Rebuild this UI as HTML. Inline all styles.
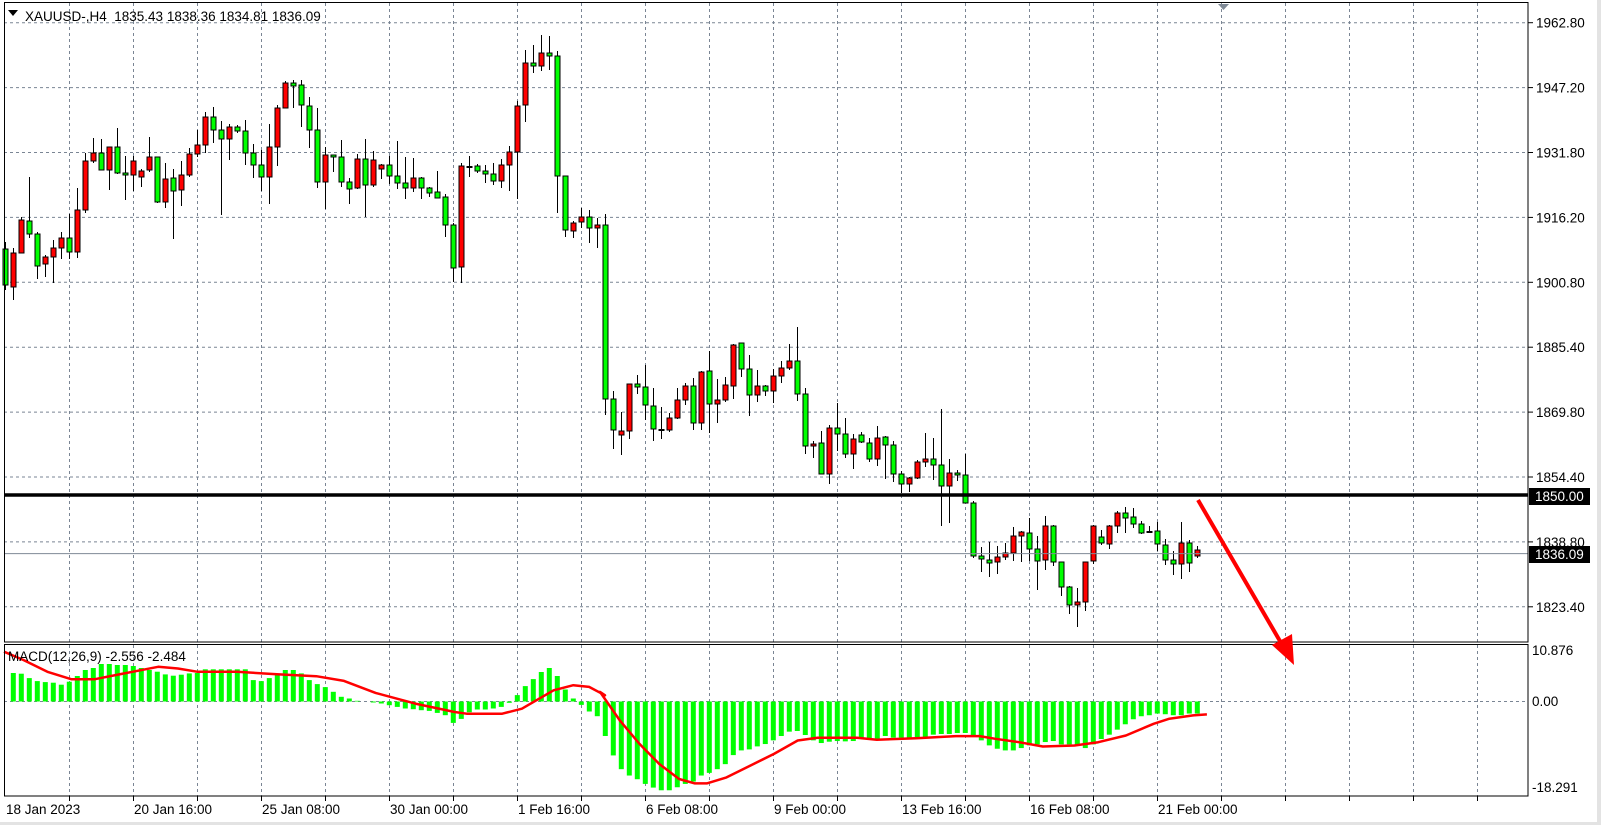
<!DOCTYPE html>
<html><head><meta charset="utf-8"><style>
html,body{margin:0;padding:0;background:#fff;}
svg{display:block;font-family:"Liberation Sans",sans-serif;}
.pre{white-space:pre;}
</style></head><body>
<svg id="s" width="1601" height="825" xmlns="http://www.w3.org/2000/svg">
<rect x="0" y="0" width="1601" height="825" fill="#fff"/>
<rect x="1597" y="0" width="4" height="825" fill="#e3e3e3"/>
<rect x="0" y="822" width="1601" height="3" fill="#e3e3e3"/>
<g id="grid"></g>
<g id="cand"></g>
<g id="macd"></g>
<line x1="4" y1="553.6" x2="1528" y2="553.6" stroke="#7f8a96" stroke-width="1"/>
<line x1="4" y1="495" x2="1528" y2="495" stroke="#000" stroke-width="3.5"/>
<rect x="4.5" y="2.5" width="1523.5" height="639.5" fill="none" stroke="#000"/>
<rect x="4.5" y="644.5" width="1523.5" height="151.5" fill="none" stroke="#000"/>
<polygon points="8,10 18,10 13,16" fill="#000"/>
<text class="pre" x="25" y="21" font-size="13.5" fill="#000">XAUUSD-,H4  1835.43 1838.36 1834.81 1836.09</text>
<polygon points="1218,4 1229,4 1223.5,10" fill="#7f8a96"/>
<text x="8" y="661" font-size="13.5" fill="#000">MACD(12,26,9) -2.556 -2.484</text>
<g id="axis" font-size="13.5" fill="#000"></g>
<rect x="1529" y="488" width="61" height="17" fill="#000"/>
<text x="1535" y="501" font-size="13.5" fill="#fff">1850.00</text>
<rect x="1529" y="546" width="61" height="17" fill="#000"/>
<text x="1535" y="559" font-size="13.5" fill="#fff">1836.09</text>
<line x1="1198" y1="500" x2="1284" y2="648" stroke="#f00" stroke-width="4"/>
<polygon points="1294,665 1272,645 1292,634" fill="#f00"/>
</svg>
<script>
var NS="http://www.w3.org/2000/svg";
function el(p,t,a){var e=document.createElementNS(NS,t);for(var k in a)e.setAttribute(k,a[k]);p.appendChild(e);return e;}
var G=document.getElementById('grid'),C=document.getElementById('cand'),M=document.getElementById('macd'),A=document.getElementById('axis');
var gs={stroke:"#7a8594","stroke-width":1,"stroke-dasharray":"3,3"};
for(var k=0;k<=22;k++){var x=69.5+64*k;
 el(G,'line',Object.assign({x1:x,y1:3,x2:x,y2:642},gs));
 el(G,'line',Object.assign({x1:x,y1:645,x2:x,y2:796},gs));
 el(A,'line',{x1:x,y1:796,x2:x,y2:801,stroke:"#000"});}
var pl=["1962.80","1947.20","1931.80","1916.20","1900.80","1885.40","1869.80","1854.40","1838.80","1823.40"];
for(var i=0;i<10;i++){var y=22.7+64.9*i;
 el(G,'line',Object.assign({x1:4,y1:y,x2:1528,y2:y},gs));
 el(A,'line',{x1:1528,y1:y,x2:1533,y2:y,stroke:"#000"});
 var t=el(A,'text',{x:1536,y:y+5});t.textContent=pl[i];}
el(G,'line',Object.assign({x1:4,y1:701.5,x2:1528,y2:701.5},gs));
[["10.876",655],["0.00",706],["-18.291",792]].forEach(function(a){var t=el(A,'text',{x:1532,y:a[1]});t.textContent=a[0];});
var dl=["20 Jan 16:00","25 Jan 08:00","30 Jan 00:00","1 Feb 16:00","6 Feb 08:00","9 Feb 00:00","13 Feb 16:00","16 Feb 08:00","21 Feb 00:00"];
var t0=el(A,'text',{x:6,y:814});t0.textContent="18 Jan 2023";
dl.forEach(function(d,j){var t=el(A,'text',{x:134+128*j,y:814});t.textContent=d;});
var D=[[249,285,242,290,'G'],[253,287,248,300,'R'],[220,253,217,253,'R'],[221,234,177,238,'G'],[234,266,232,279,'G'],[257,264,255,277,'R'],[248,257,240,283,'R'],[238,248,232,259,'R'],[238,252,214,259,'G'],[210,252,188,258,'R'],
[161,210,153,213,'R'],[153,161,138,163,'R'],[153,170,139,170,'G'],[147,170,147,190,'R'],[147,173,128,174,'G'],[173,175,156,200,'G'],[161,175,156,191,'R'],[171,177,169,187,'R'],[157,170,137,172,'R'],[157,202,157,203,'G'],
[179,202,163,208,'R'],[178,191,169,239,'G'],[175,190,161,206,'R'],[154,175,148,177,'R'],[145,154,130,157,'R'],[117,145,112,153,'R'],[117,130,107,143,'G'],[130,139,121,215,'G'],[127,139,124,160,'R'],[127,131,125,133,'G'],
[131,153,120,165,'G'],[153,165,144,178,'G'],[165,177,150,191,'G'],[147,177,124,204,'R'],[108,147,105,166,'R'],[83,108,81,108,'R'],[83,86,80,108,'G'],[85,105,80,127,'G'],[106,130,97,148,'G'],[130,182,108,188,'G'],
[155,182,147,209,'R'],[155,157,155,172,'G'],[157,182,140,187,'G'],[182,189,178,204,'G'],[159,188,154,189,'R'],[159,185,139,217,'G'],[160,185,151,187,'R'],[165,169,164,179,'R'],[165,176,156,184,'G'],[176,183,141,189,'G'],
[183,188,157,199,'G'],[178,188,158,192,'R'],[178,188,177,199,'G'],[188,193,187,197,'G'],[192,198,171,198,'G'],[197,225,194,237,'G'],[225,268,223,282,'G'],[166,267,163,283,'R'],[166,167,156,177,'G'],[166,171,164,173,'G'],
[171,174,165,183,'G'],[174,181,163,185,'G'],[165,181,159,188,'R'],[152,165,146,191,'R'],[106,152,101,199,'R'],[63,105,50,122,'R'],[63,66,45,73,'G'],[53,66,35,71,'R'],[53,56,36,70,'G'],[56,176,51,213,'G'],
[176,230,176,237,'G'],[223,231,221,238,'R'],[217,222,208,228,'R'],[217,228,210,243,'G'],[225,228,218,248,'R'],[225,399,214,415,'G'],[399,430,391,449,'G'],[431,435,412,455,'R'],[384,431,384,439,'R'],[384,387,375,394,'G'],
[387,405,365,420,'G'],[406,429,388,441,'G'],[429,430,407,439,'G'],[418,430,413,432,'R'],[400,418,388,419,'R'],[386,400,383,405,'R'],[386,423,378,430,'G'],[372,423,371,430,'R'],[371,404,351,433,'G'],[400,404,379,423,'R'],
[385,400,377,402,'R'],[345,386,344,399,'R'],[343,369,343,377,'G'],[369,395,355,416,'G'],[386,395,370,402,'R'],[386,391,385,396,'G'],[376,391,369,403,'R'],[368,376,361,383,'R'],[361,368,344,370,'R'],[361,394,327,401,'G'],
[394,446,388,454,'G'],[444,446,441,458,'R'],[443,474,431,474,'G'],[428,474,425,484,'R'],[428,434,403,451,'G'],[434,454,418,458,'G'],[439,454,434,469,'R'],[435,442,432,443,'G'],[443,459,438,462,'G'],[438,459,426,466,'R'],
[437,445,436,479,'G'],[445,474,441,482,'G'],[474,484,471,493,'G'],[478,484,477,492,'R'],[462,478,460,479,'R'],[459,462,433,467,'R'],[459,465,438,480,'G'],[465,486,409,526,'G'],[473,486,459,523,'R'],[473,475,470,481,'G'],
[475,503,454,503,'G'],[503,556,501,558,'G'],[556,559,547,572,'G'],[560,563,542,577,'G'],[557,562,546,574,'R'],[553,557,543,560,'R'],[536,553,527,561,'R'],[532,536,531,562,'R'],[533,549,518,561,'G'],[549,561,536,590,'G'],
[526,560,516,570,'R'],[526,562,525,566,'G'],[562,587,562,596,'G'],[587,605,586,614,'G'],[602,605,588,627,'R'],[562,602,562,611,'R'],[526,561,525,564,'R'],[537,543,530,545,'G'],[526,544,525,549,'R'],[513,526,511,533,'R'],
[513,518,507,533,'G'],[517,524,508,528,'G'],[524,533,521,534,'G'],[531,532,526,532,'G'],[531,544,522,551,'G'],[545,560,539,565,'G'],[560,564,551,575,'G'],[543,564,522,579,'R'],[543,563,540,572,'G'],[550,556,546,558,'R']];
D.forEach(function(c,k){var x=Math.round(5.3+8*k)+0.5;
 el(C,'line',{x1:x,y1:c[2],x2:x,y2:c[3],stroke:"#000","stroke-width":1});
 var h=Math.max(c[1]-c[0],1);
 if(c[1]-c[0]<2){el(C,'rect',{x:x-3,y:c[0],width:6,height:2,fill:"#000"});}
 else el(C,'rect',{x:x-2.5,y:c[0],width:5,height:h,fill:c[4]=='G'?"#00ff00":"#ff0000",stroke:"#000","stroke-width":1});
});
var H1=[30.5,27.8,28.5,27.8,23.4,20.4,19.4,18.8,16.8,19.8,25.5,31.5,33.5,37.5,37.5,36.5,36.5,35.5,33.5,31.5,29.8,27.1,25.8,26.8,28.1,28.5,32.2,32.2,32.2,32.2,32.2,32.2,21.4,20.4,23.4,26.8,31.5,31.5,28.1,21.4,17.4,14.4,9.7,4.7,3,0.7,0,-1,-2,-3.7,-5.4,-7,-7.7,-8.7,-9.4,-11.4,-13.7,-21.4,-17.4,-10.7,-8,-8,-7,-5.4,-1.3,6.4,15.4,22.4,29.5,33.5,25.5,12,3,-3.4,-10,-14.7];
var B2=[287,345,386,405,416,430,441,449,449,440,430,423,405,397,386,371,344,330,327,318,311,300,287,274,272,284,300,308,304,302,303,302,295,298,298,287,292,292,292,290,290,283,281,281,278,278,285,300,315,325,330,330,323,315,312,305,302,312,312,315,323,312,296,283,268,252,237,228,225,220,222,225,225,220,220];
var H=[];H1.forEach(function(v,i){H.push([i-1,v]);});
B2.forEach(function(b,i){H.push([75+i,-(b-184)*0.335]);});
var z=701.5;
H.forEach(function(h){var x=5.3+8*h[0];if(x<6)return;var v=h[1];
 if(Math.abs(v)<0.5)return;
 el(M,'rect',{x:x-2.5,y:v>0?z-v:z,width:5,height:Math.abs(v),fill:"#00ff00"});});
var S1=[[10,35],[60,60],[120,95],[180,117],[240,117],[300,103],[400,80],[450,85],[500,95],[600,95],[700,102],[800,108],[870,122],[950,158],[1050,190],[1150,215],[1180,220],[1270,220],[1320,205],[1400,150],[1450,135],[1490,140],[1530,165]];
var S2=[[0,155],[50,240],[100,310],[150,370],[200,415],[240,428],[270,428],[320,410],[380,375],[440,340],[500,300],[550,292],[650,292],[700,298],[800,293],[900,287],[960,287],[1000,295],[1060,305],[1120,318],[1200,315],[1260,305],[1330,285],[1400,250],[1440,235],[1500,225],[1535,222]];
var pts=[];S1.forEach(function(p){pts.push([p[0]*0.3954,640+p[1]*0.335]);});
S2.forEach(function(p){pts.push([600+p[0]*0.3954,640+p[1]*0.335]);});
var d="M"+pts.map(function(p){return p[0].toFixed(1)+","+p[1].toFixed(1);}).join(" L");
el(M,'path',{d:d,fill:"none",stroke:"#f00","stroke-width":2.5,"stroke-linejoin":"round"});
</script>
</body></html>
